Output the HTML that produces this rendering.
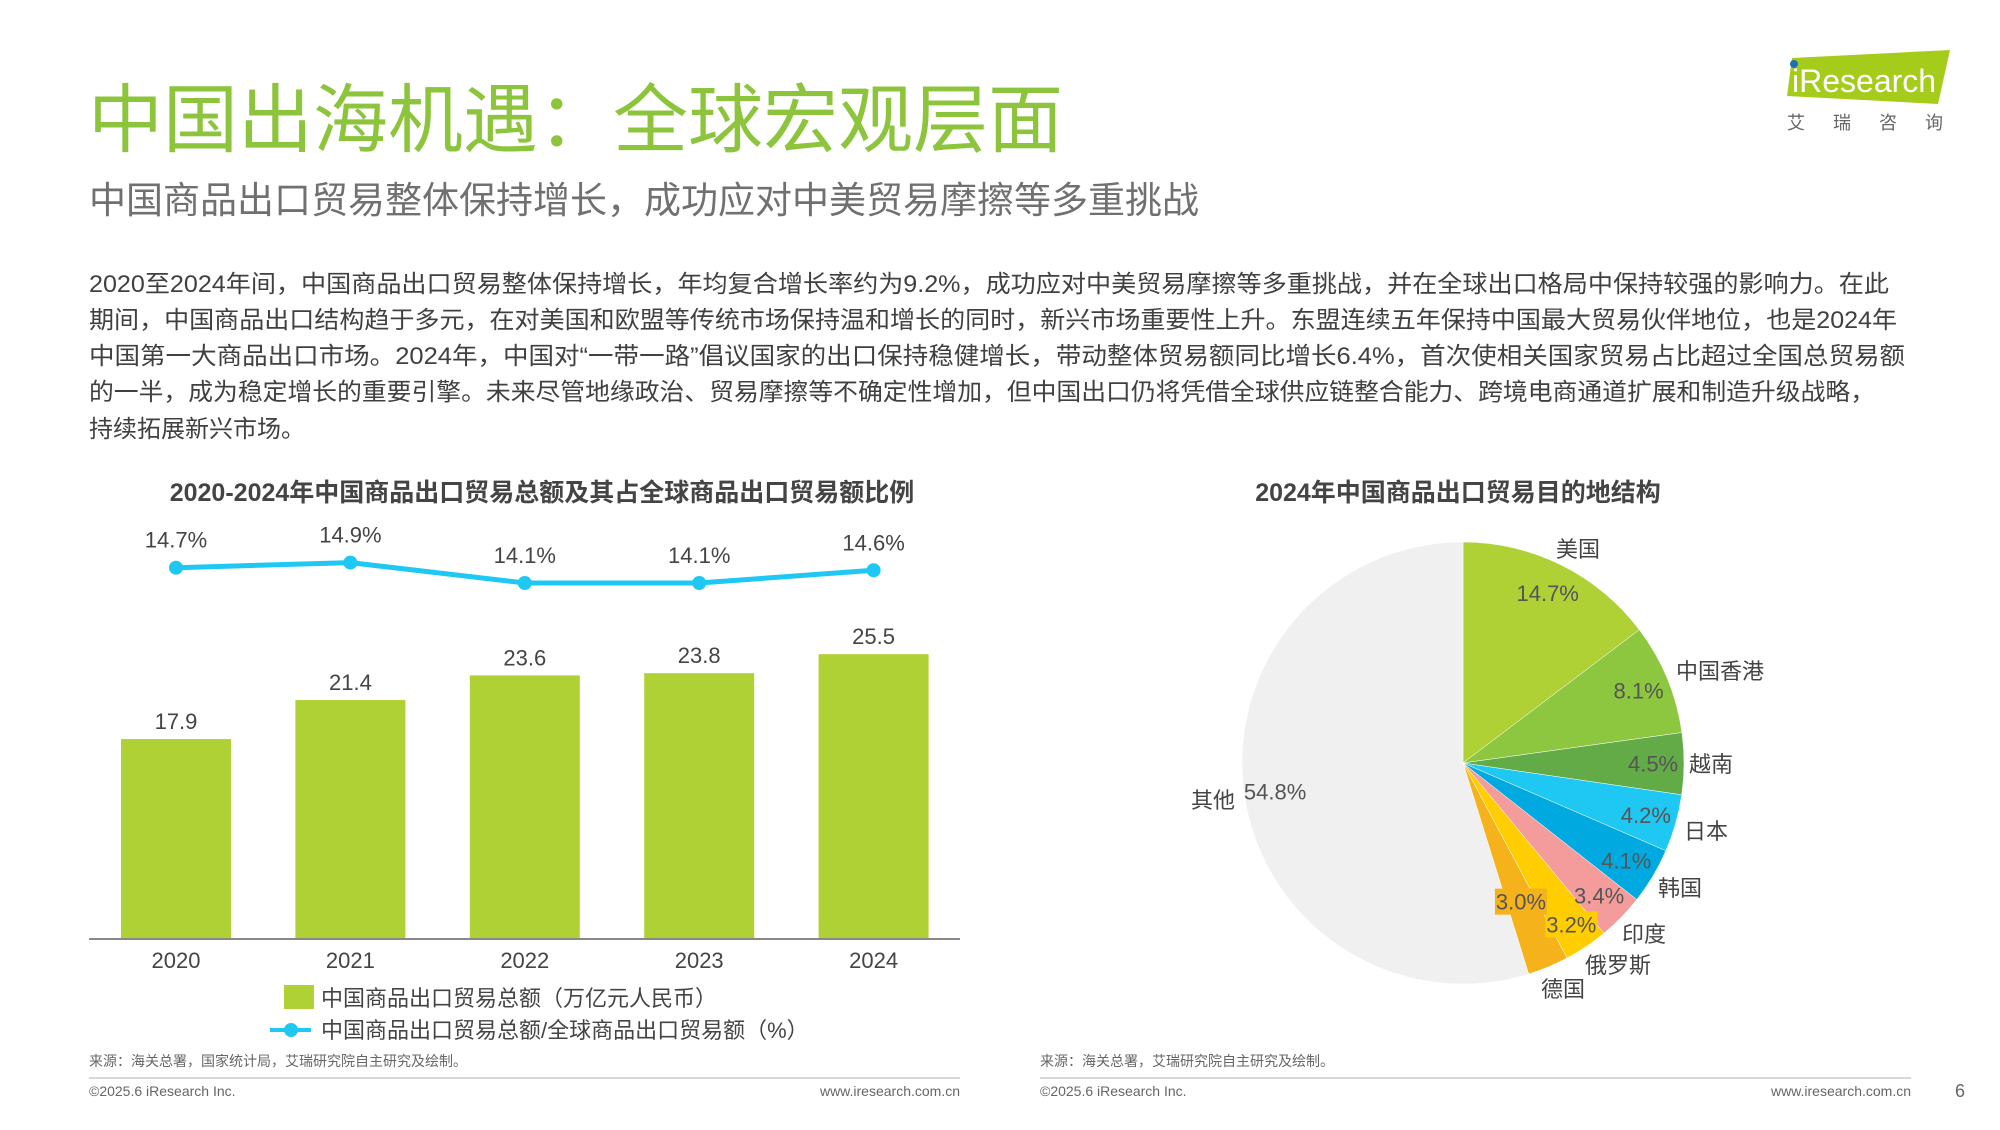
<!DOCTYPE html>
<html><head><meta charset="utf-8">
<style>
html,body{margin:0;padding:0;background:#fff;}
body{width:2000px;height:1125px;overflow:hidden;font-family:"Liberation Sans","Noto Sans CJK SC",sans-serif;}
svg text{font-family:"Liberation Sans","Noto Sans CJK SC",sans-serif;}
</style></head>
<body>
<svg id="root" width="2000" height="1125" viewBox="0 0 2000 1125" xmlns="http://www.w3.org/2000/svg">
  <text x="88" y="146" font-size="75" fill="#8cc43c">中国出海机遇：全球宏观层面</text>
  <text x="89" y="213" font-size="37" fill="#707070">中国商品出口贸易整体保持增长，成功应对中美贸易摩擦等多重挑战</text>
  <g font-size="24" fill="#404040">
    <text x="89" y="292" textLength="1800" lengthAdjust="spacingAndGlyphs">2020至2024年间，中国商品出口贸易整体保持增长，年均复合增长率约为9.2%，成功应对中美贸易摩擦等多重挑战，并在全球出口格局中保持较强的影响力。在此</text>
    <text x="89" y="328" textLength="1808" lengthAdjust="spacingAndGlyphs">期间，中国商品出口结构趋于多元，在对美国和欧盟等传统市场保持温和增长的同时，新兴市场重要性上升。东盟连续五年保持中国最大贸易伙伴地位，也是2024年</text>
    <text x="89" y="364" textLength="1816" lengthAdjust="spacingAndGlyphs">中国第一大商品出口市场。2024年，中国对“一带一路”倡议国家的出口保持稳健增长，带动整体贸易额同比增长6.4%，首次使相关国家贸易占比超过全国总贸易额</text>
    <text x="89" y="400" textLength="1786" lengthAdjust="spacingAndGlyphs">的一半，成为稳定增长的重要引擎。未来尽管地缘政治、贸易摩擦等不确定性增加，但中国出口仍将凭借全球供应链整合能力、跨境电商通道扩展和制造升级战略，</text>
    <text x="89" y="437">持续拓展新兴市场。</text>
  </g>
  <g>
    <polygon points="1792,58 1950,50 1938,104 1787,96" fill="#a5cc1a"/>
    <circle cx="1794" cy="64" r="4" fill="#1f6fb5"/>
    <text x="1792" y="92" font-size="32" fill="#fff">iResearch</text>
    <text x="1787" y="129" font-size="18" fill="#666" letter-spacing="28">艾瑞咨询</text>
  </g>
  <text x="542" y="501" font-size="25" font-weight="bold" fill="#444" text-anchor="middle">2020-2024年中国商品出口贸易总额及其占全球商品出口贸易额比例</text>
  <text x="1458" y="501" font-size="25" font-weight="bold" fill="#444" text-anchor="middle">2024年中国商品出口贸易目的地结构</text>
  <g id="bars"></g>
  <g id="pie"></g>
  <g>
    <rect x="284" y="985" width="30" height="24" fill="#b0d136"/>
    <text x="321" y="1006" font-size="22" fill="#444">中国商品出口贸易总额（万亿元人民币）</text>
    <line x1="270" y1="1030" x2="311" y2="1030" stroke="#1ec8f2" stroke-width="4"/>
    <circle cx="291" cy="1030" r="7" fill="#1ec8f2"/>
    <text x="321" y="1038" font-size="22" fill="#444">中国商品出口贸易总额/全球商品出口贸易额（%）</text>
  </g>
  <g font-size="14" fill="#666">
    <text x="89" y="1066">来源：海关总署，国家统计局，艾瑞研究院自主研究及绘制。</text>
    <text x="1040" y="1066">来源：海关总署，艾瑞研究院自主研究及绘制。</text>
    <line x1="89" y1="1078" x2="960" y2="1078" stroke="#ccc" stroke-width="1.5"/>
    <line x1="1040" y1="1078" x2="1911" y2="1078" stroke="#ccc" stroke-width="1.5"/>
    <text x="89" y="1096">©2025.6 iResearch Inc.</text>
    <text x="960" y="1096" text-anchor="end">www.iresearch.com.cn</text>
    <text x="1040" y="1096">©2025.6 iResearch Inc.</text>
    <text x="1911" y="1096" text-anchor="end">www.iresearch.com.cn</text>
    <text x="1955" y="1097" font-size="18">6</text>
  </g>
</svg>
<script>
const years = ["2020","2021","2022","2023","2024"];
const totals = [17.9, 21.4, 23.6, 23.8, 25.5];
const shares = [14.7, 14.9, 14.1, 14.1, 14.6];
const shareLabels = ["14.7%","14.9%","14.1%","14.1%","14.6%"];
const pieNames = ["美国","中国香港","越南","日本","韩国","印度","俄罗斯","德国","其他"];
const pieValues = [14.7, 8.1, 4.5, 4.2, 4.1, 3.4, 3.2, 3.0, 54.8];
const pieColors = ["#b0d136","#8dc63f","#62ab46","#1ec8f2","#00a9e0","#f49c9c","#ffcd00","#f6b21b","#f0f0f0"];
const nameDX = [115,213,226,221,195,159,122,78,-228];
const nameDY = [-214,-92,1,68,125,171,202,226,37];
const pctRadius = [0.86,0.86,0.86,0.86,0.86,0.86,0.88,0.68,0.86];

const NS = "http://www.w3.org/2000/svg";
function mk(tag, attrs, parent, txt){
  const e = document.createElementNS(NS, tag);
  for (const k in attrs) e.setAttribute(k, attrs[k]);
  if (txt !== undefined) e.textContent = txt;
  parent.appendChild(e);
  return e;
}
const bars = document.getElementById('bars');
const baseY = 939, plotL = 89, plotR = 960;
const xC = i => 176 + i * 174.4;
const yBar = v => baseY - v * 11.17;
const yLine = v => 583 - (v - 14.1) * 25.5;
const barW = 110;
years.forEach((y, i) => {
  const r = mk('rect', {x: xC(i) - barW/2, y: yBar(totals[i]), width: barW, height: baseY - yBar(totals[i]), fill: '#b0d136'}, bars);
  
  
  const t = mk('text', {x: xC(i), y: yBar(totals[i]) - 10, 'font-size': 22, fill: '#444', 'text-anchor': 'middle'}, bars, totals[i].toFixed(1));
  
  
  const xl = mk('text', {x: xC(i), y: baseY + 29, 'font-size': 22, fill: '#444', 'text-anchor': 'middle'}, bars, y);
  
  
});
const axis = mk('line', {x1: plotL, x2: plotR, y1: baseY, y2: baseY, stroke: '#888', 'stroke-width': 2}, bars);


const pts = shares.map((v, i) => xC(i) + ',' + yLine(v)).join(' ');
const pl = mk('polyline', {points: pts, fill: 'none', stroke: '#1ec8f2', 'stroke-width': 5}, bars);


shares.forEach((v, i) => {
  const c = mk('circle', {cx: xC(i), cy: yLine(v), r: 7, fill: '#1ec8f2'}, bars);
  
  
  const t = mk('text', {x: xC(i), y: yLine(v) - 20, 'font-size': 22, fill: '#444', 'text-anchor': 'middle'}, bars, shareLabels[i]);
  
  
});
const pie = document.getElementById('pie');
const cx = 1463, cy = 763, R = 221;
const total = pieValues.reduce((a, b) => a + b, 0);
let acc = 0;
pieValues.forEach((v, i) => {
  const a0 = acc / total * 2 * Math.PI, a1 = (acc + v) / total * 2 * Math.PI;
  acc += v;
  const p = a => [cx + R * Math.sin(a), cy - R * Math.cos(a)];
  const [x0, y0] = p(a0), [x1, y1] = p(a1);
  const large = (a1 - a0) > Math.PI ? 1 : 0;
  const s = mk('path', {d: `M${cx},${cy} L${x0},${y0} A${R},${R} 0 ${large} 1 ${x1},${y1} Z`, fill: pieColors[i], stroke: '#fff', 'stroke-width': 0.5}, pie);
  
  
});
acc = 0;
pieValues.forEach((v, i) => {
  const am = (acc + v / 2) / total * 2 * Math.PI;
  acc += v;
  const lr = pctRadius[i];
  const lx = cx + R * lr * Math.sin(am), ly = cy - R * lr * Math.cos(am);
  if (i === 6 || i === 7) {
    const bg = mk('rect', {x: lx - 26, y: ly - 13, width: 52, height: 26, fill: pieColors[i]}, pie);
    
    
  }
  const t = mk('text', {x: lx, y: ly + 8, 'font-size': 22, fill: '#555', 'text-anchor': 'middle'}, pie, v.toFixed(1) + '%');
  
  
  const anchor = i === 0 ? 'middle' : (i === 8 ? 'end' : 'start');
  const n = mk('text', {x: cx + nameDX[i], y: cy + nameDY[i] + 8, 'font-size': 22, fill: '#444', 'text-anchor': anchor}, pie, pieNames[i]);
  
  
});
</script>
</body></html>
